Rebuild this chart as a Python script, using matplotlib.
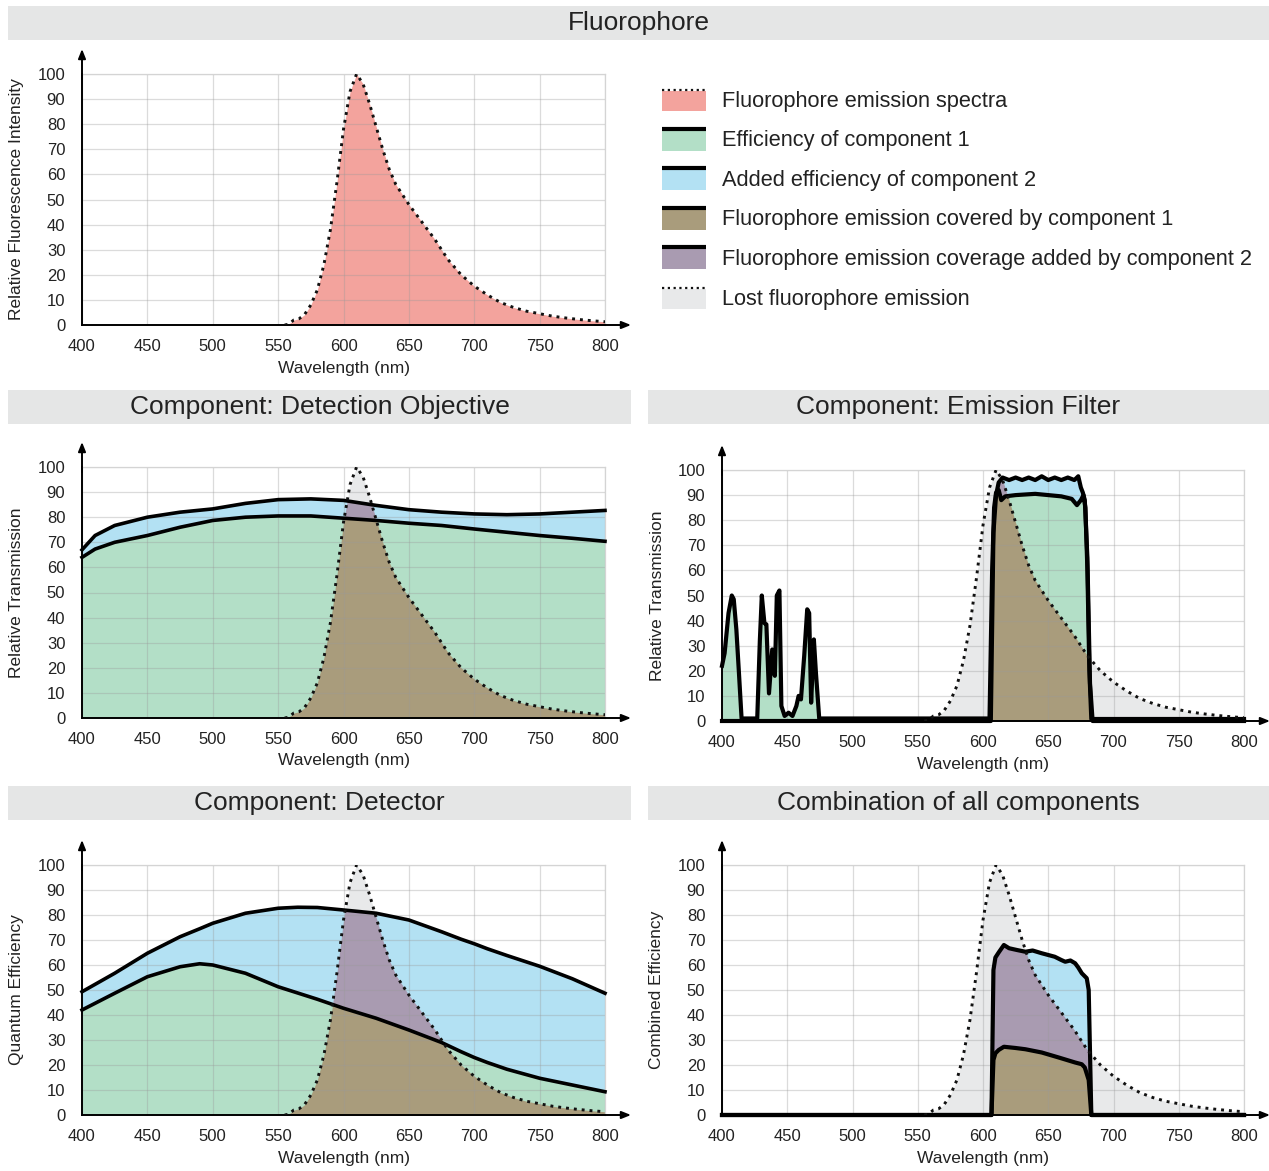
import numpy as np
import matplotlib
matplotlib.use("Agg")
import matplotlib.pyplot as plt
from matplotlib.patches import Rectangle

plt.rcParams['font.family'] = ['Liberation Sans', 'DejaVu Sans']

W, H = 1269, 1171

# fluorophore emission spectrum (relative intensity)
fluor_wl = [555, 558, 562, 566, 570, 575, 580, 585, 590, 595, 600, 605, 610, 615, 620, 625,
            630, 635, 640, 650, 660, 670, 680, 690, 700, 710, 720, 730, 740, 750, 760, 770,
            780, 790, 800]
fluor_val = [0, 0.3, 2, 2.5, 4, 8, 14, 24, 38, 57, 78, 93, 100, 96, 88, 79,
             70, 62, 56, 48, 41, 34, 26, 20, 15.5, 12, 9, 7, 5.5, 4.5, 3.5, 2.8,
             2.2, 1.7, 1.3]

# detection objective
obj_wl = [400, 410, 425, 450, 475, 500, 525, 550, 575, 600, 625, 650, 675, 700, 725, 750, 775, 800]
obj_eff1 = [64, 67.3, 70, 72.7, 76, 78.7, 80, 80.5, 80.5, 79.6, 78.7, 77.6, 76.7, 75.3, 74, 72.7, 71.6, 70.4]
obj_eff2 = [67, 72.7, 76.7, 80, 82, 83.3, 85.5, 87, 87.3, 86.7, 84.7, 83, 82, 81.3, 81, 81.3, 82, 82.7]

# emission filter
filt_wl1 = [400, 402, 405, 407.5, 409, 411, 413, 415, 427, 429, 430.5, 432.5, 434, 436, 438.5,
            440.5, 442, 444, 445.5, 448, 451, 454, 457, 458.7, 460.5, 463, 465.3, 466.8, 468.3,
            470.4, 472, 474.5, 605, 607, 608.5, 610, 612, 614, 617, 625, 640, 650, 660, 668,
            672, 675, 677, 678.5, 680, 681.5, 683, 800]
filt_eff1 = [22, 27, 43, 50, 48.5, 36.5, 19, 1, 1, 32, 50, 39, 38.5, 11, 28.5,
             18, 50, 52, 6, 2, 3.3, 2, 6, 10, 8.6, 26, 44.5, 43, 7.3,
             32.5, 19, 1, 1, 60, 85, 91, 92, 88, 89.5, 90, 90.5, 90, 89.5, 88.5,
             86, 88, 90, 85, 60, 20, 0.8, 0.8]
filt_wl2 = [400, 606, 608, 610, 612, 615, 620, 625, 630, 635, 640, 645, 650, 655, 660, 665,
            670, 673, 675, 676.5, 678, 680, 682, 684, 800]
filt_eff2 = [0, 0, 75, 90, 95, 97, 96, 97, 96, 97, 96, 97.5, 96, 97, 96, 97,
             96, 97.5, 93, 91, 88, 65, 15, 0, 0]

# detector
det_wl = [400, 425, 450, 475, 490, 500, 525, 550, 565, 580, 600, 625, 650, 675, 690, 700, 710,
          725, 750, 775, 800]
det_eff1 = [42, 48.7, 55.3, 59.3, 60.5, 60, 56.7, 51.3, 48.8, 46.3, 42.7, 38.7, 34, 29, 25.3,
            23, 21, 18.3, 14.7, 12, 9.3]
det_eff2 = [49.3, 56.7, 64.7, 71.3, 74.5, 76.7, 80.7, 82.7, 83.1, 83, 82, 80.7, 78, 73.3, 70.3,
            68.5, 66.5, 63.8, 59.5, 54.5, 48.7]

# combination of all components
comb_wl1 = [400, 606.5, 608, 609.5, 612, 616, 625, 632.5, 645, 658, 670.6, 675.7, 678, 681, 683, 800]
comb_eff1 = [0, 0, 22, 24.7, 26, 27.3, 26.8, 26.3, 25, 23, 21, 20.3, 19, 14, 0, 0]
comb_wl2 = [400, 606.5, 608, 609.5, 612, 616, 620, 626, 632.5, 638, 645, 650, 655, 660, 663,
            667, 670.6, 673, 675.7, 679.5, 681, 683, 800]
comb_eff2 = [0, 0, 58, 63, 65, 68, 66.7, 66, 65.3, 65.8, 64.7, 64, 63.3, 62, 61.3,
             61.8, 60.7, 59, 56.7, 54.7, 50, 0, 0]

PINK = '#f3a39d'
GREEN = '#b3dfc7'
BLUE = '#b3e1f3'
BROWN = '#a99c7c'
PURPLE = '#a99bb1'
LOST = '#e8e9ea'
HEADER = '#e5e6e6'

x = np.linspace(400, 800, 3201)


def fx(px):
    return px / W


def fy(py):
    return 1 - py / H


def add_axes(left, bottom, right, top):
    return fig.add_axes([fx(left), fy(bottom), (right - left) / W, (bottom - top) / H])


def style_axes(ax, ylabel):
    ax.set_xlim(400, 800)
    ax.set_ylim(0, 100)
    ax.set_xticks(range(400, 801, 50))
    ax.set_yticks(range(0, 101, 10))
    ax.tick_params(length=0, labelsize=12, colors='#222222')
    ax.tick_params(axis='x', pad=10)
    ax.tick_params(axis='y', pad=12)
    ax.grid(True, color='#9a9a9a', alpha=0.35, lw=0.9)
    for s in ['top', 'right']:
        ax.spines[s].set_color('#d4d4d4')
        ax.spines[s].set_linewidth(0.9)
    for s in ['left', 'bottom']:
        ax.spines[s].set_color('black')
        ax.spines[s].set_linewidth(1.4)
    bb = ax.get_position()
    wpx, hpx = bb.width * W, bb.height * H
    arrow = dict(arrowstyle='-|>,head_length=0.55,head_width=0.22', color='black',
                 lw=1.4, shrinkA=0, shrinkB=0)
    ax.annotate('', xy=(1 + 26 / wpx, 0), xytext=(0.98, 0), xycoords='axes fraction',
                arrowprops=arrow, annotation_clip=False)
    ax.annotate('', xy=(0, 1 + 25 / hpx), xytext=(0, 0.98), xycoords='axes fraction',
                arrowprops=arrow, annotation_clip=False)
    ax.set_xlabel('Wavelength (nm)', fontsize=12.5, color='#222222')
    ax.xaxis.set_label_coords(0.5, -43 / hpx)
    ax.xaxis.label.set_va('center')
    ax.set_ylabel(ylabel, fontsize=12.5, color='#222222')
    ax.yaxis.set_label_coords(-65 / wpx, 0.5)
    ax.yaxis.label.set_va('center')
    ax.yaxis.label.set_ha('center')


def spectra_panel(ax, wl1, e1, wl2, e2, lw=2.6):
    f = np.interp(x, fluor_wl, fluor_val, left=0)
    a = np.interp(x, wl1, e1)
    b = np.maximum(np.interp(x, wl2, e2), a)
    on = x >= fluor_wl[0]
    ax.fill_between(x, 0, f, where=on, color=LOST, lw=0, zorder=1)
    ax.fill_between(x, 0, a, color=GREEN, lw=0, zorder=1.1)
    ax.fill_between(x, a, b, color=BLUE, lw=0, zorder=1.1)
    ax.fill_between(x, 0, np.minimum(f, a), color=BROWN, lw=0, zorder=1.2)
    ax.fill_between(x, a, np.clip(f, a, b), color=PURPLE, lw=0, zorder=1.2)
    ax.plot(wl2, e2, color='black', lw=lw, zorder=4, solid_joinstyle='round', clip_on=False)
    ax.plot(wl1, e1, color='black', lw=lw, zorder=4, solid_joinstyle='round', clip_on=False)
    ax.plot(fluor_wl, fluor_val, color='#111111', lw=2.1, ls=(0, (1, 1.7)), zorder=5)


def header(x0, x1, y0, y1, text):
    fig.add_artist(Rectangle((fx(x0), fy(y1)), (x1 - x0) / W, (y1 - y0) / H,
                             transform=fig.transFigure, color=HEADER, lw=0, zorder=0))
    fig.text(fx((x0 + x1) / 2), fy((y0 + y1) / 2), text, ha='center', va='center',
             fontsize=19, color='#222222')


fig = plt.figure(figsize=(W / 100, H / 100), dpi=100)

header(8, 1269, 6, 40, 'Fluorophore')
header(8, 631, 390, 424, 'Component: Detection Objective')
header(648, 1269, 390, 424, 'Component: Emission Filter')
header(8, 631, 786, 820, 'Component: Detector')
header(648, 1269, 786, 820, 'Combination of all components')

# fluorophore
ax0 = add_axes(82, 325, 605, 74)
ax0.fill_between(fluor_wl, 0, fluor_val, color=PINK, lw=0, zorder=1)
ax0.plot(fluor_wl, fluor_val, color='#111111', lw=2.1, ls=(0, (1, 1.7)), zorder=5)
style_axes(ax0, 'Relative Fluorescence Intensity')

# detection objective
ax1 = add_axes(82, 718, 605, 467)
spectra_panel(ax1, obj_wl, obj_eff1, obj_wl, obj_eff2)
style_axes(ax1, 'Relative Transmission')

# emission filter
ax2 = add_axes(722, 721, 1244, 470)
spectra_panel(ax2, filt_wl1, filt_eff1, filt_wl2, filt_eff2, lw=3)
style_axes(ax2, 'Relative Transmission')

# detector
ax3 = add_axes(82, 1115, 605, 865)
spectra_panel(ax3, det_wl, det_eff1, det_wl, det_eff2)
style_axes(ax3, 'Quantum Efficiency')

# combination
ax4 = add_axes(722, 1115, 1244, 865)
spectra_panel(ax4, comb_wl1, comb_eff1, comb_wl2, comb_eff2, lw=3)
style_axes(ax4, 'Combined Efficiency')

# legend
leg_labels = ['Fluorophore emission spectra', 'Efficiency of component 1',
              'Added efficiency of component 2', 'Fluorophore emission covered by component 1',
              'Fluorophore emission coverage added by component 2', 'Lost fluorophore emission']
leg_colors = [PINK, GREEN, BLUE, BROWN, PURPLE, LOST]
leg_dotted = [True, False, False, False, False, True]

axl = fig.add_axes([fx(640), fy(320), (W - 640) / W, 250 / H])
axl.set_xlim(640, W)
axl.set_ylim(320, 70)
axl.axis('off')
for i, (lab, col, dot) in enumerate(zip(leg_labels, leg_colors, leg_dotted)):
    yc = 101 + i * 39.6
    axl.add_patch(Rectangle((662, yc - 10), 44, 20, color=col, lw=0))
    if dot:
        axl.plot([662, 706], [yc - 11, yc - 11], color='#111111', lw=1.6, ls=(0, (1, 1.6)))
    else:
        axl.plot([662, 706], [yc - 12, yc - 12], color='black', lw=3, solid_capstyle='butt')
    axl.text(722, yc, lab, ha='left', va='center', fontsize=15.7, color='#222222')

fig.savefig('out.png', dpi=100)
